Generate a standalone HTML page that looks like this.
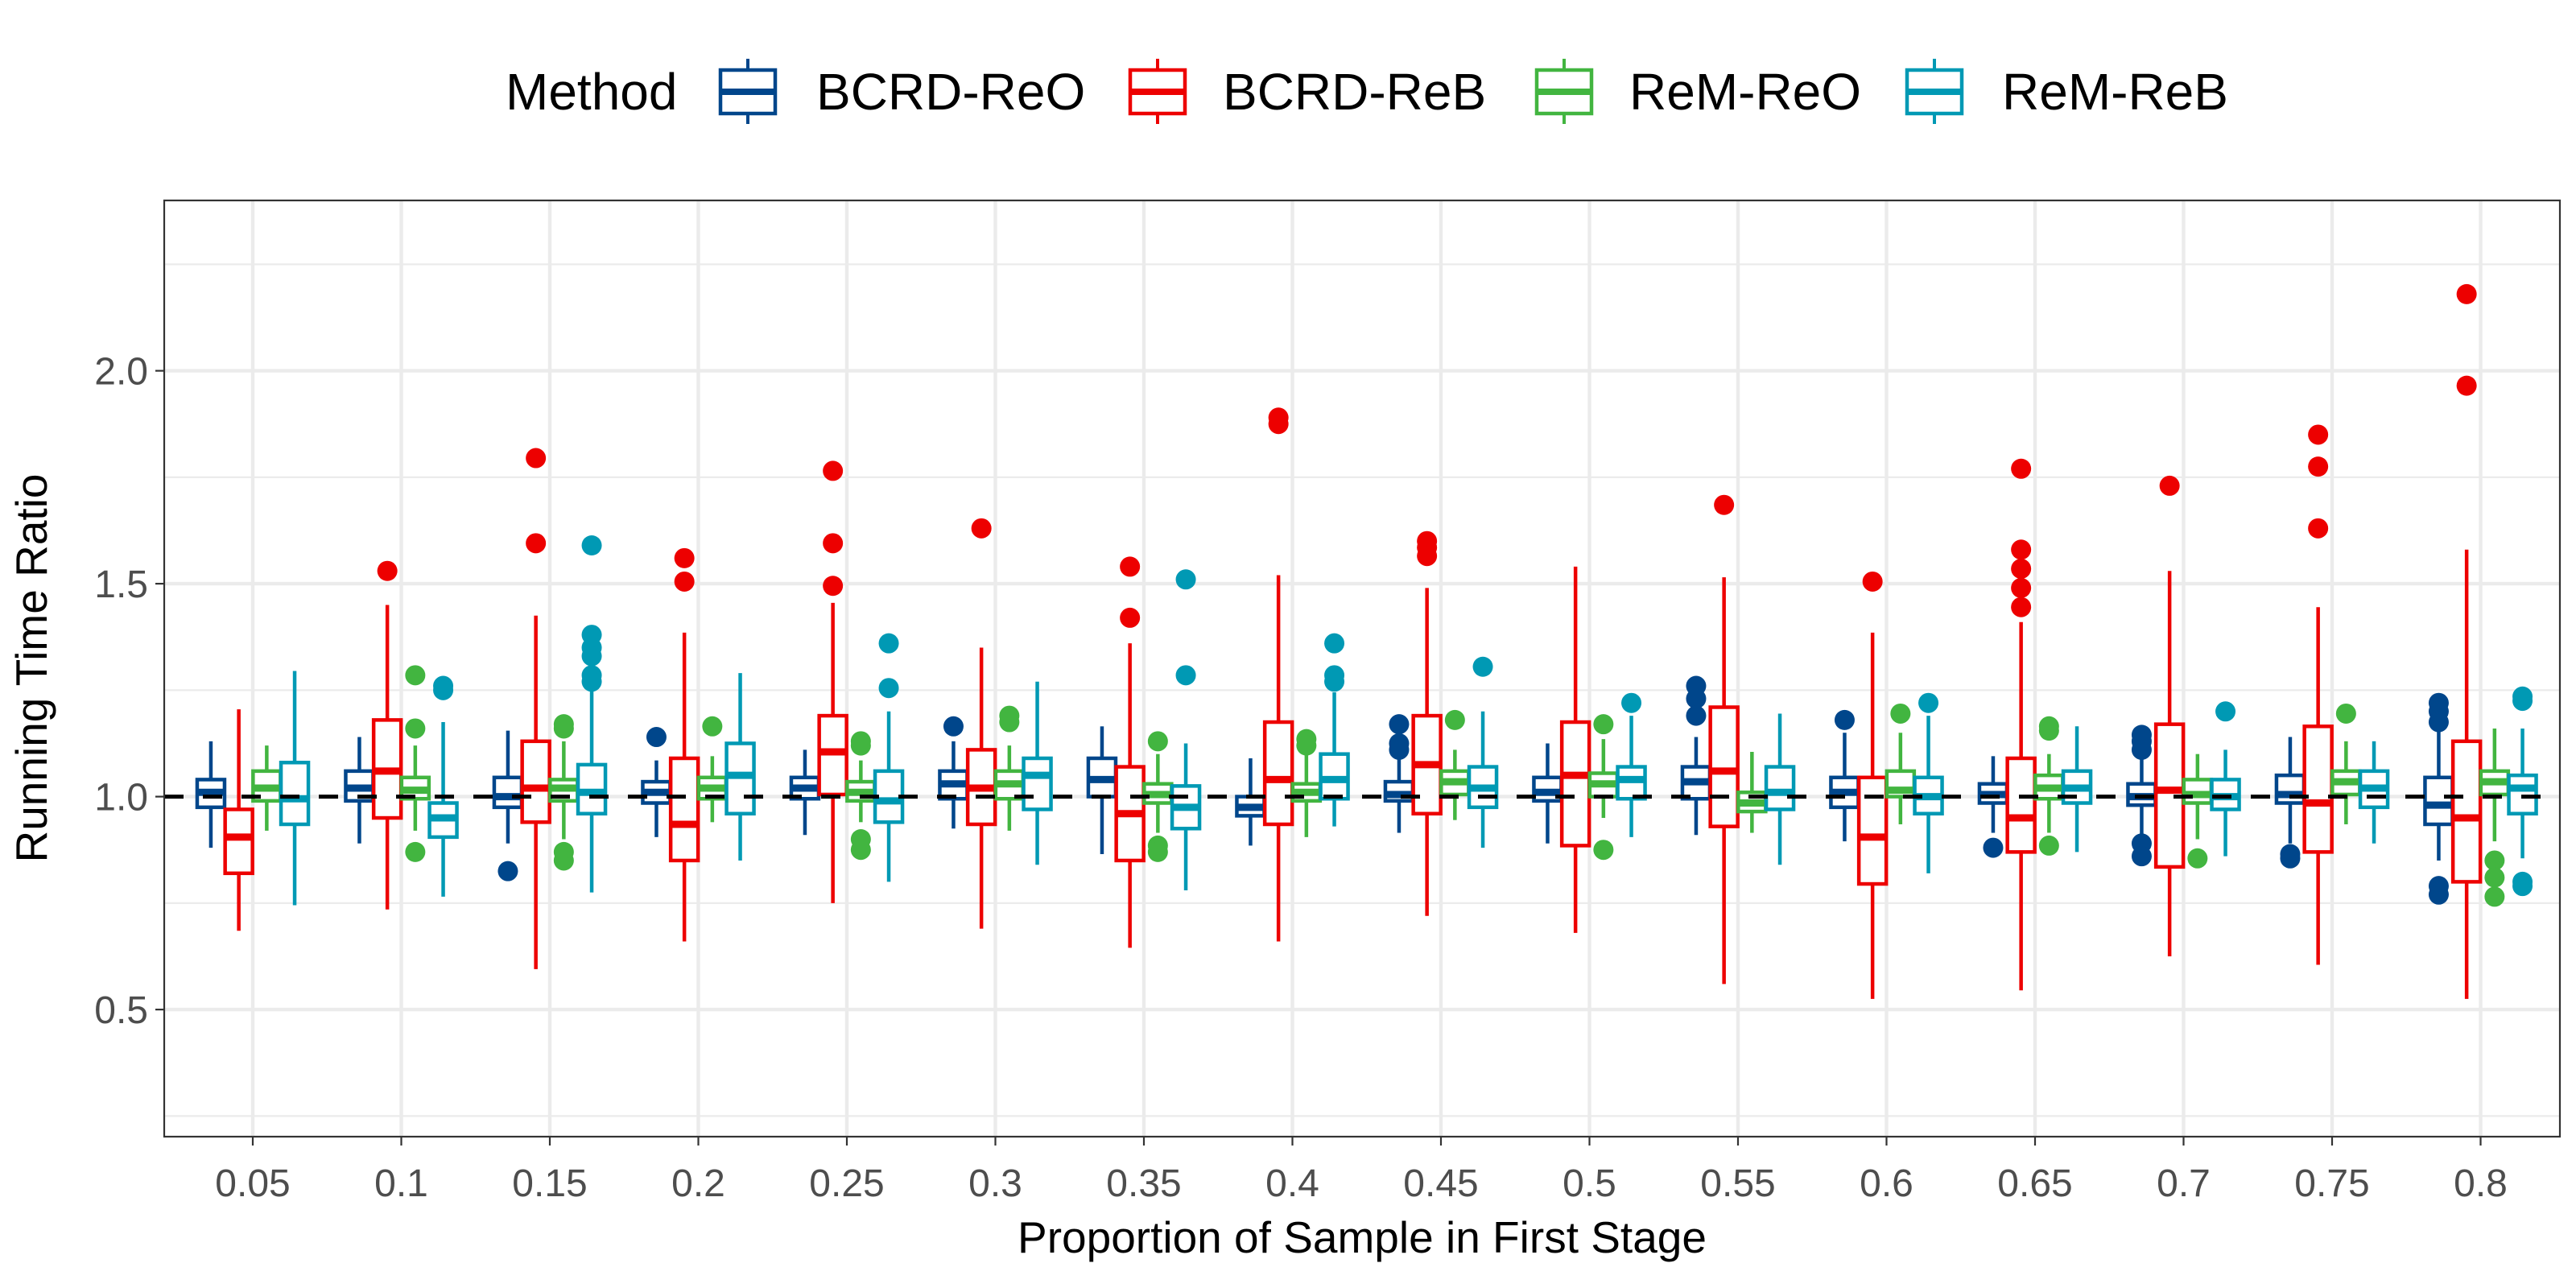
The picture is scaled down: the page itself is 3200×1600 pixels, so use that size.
<!DOCTYPE html>
<html><head><meta charset="utf-8">
<style>
html,body{margin:0;padding:0;background:#fff;}
svg{display:block;font-family:"Liberation Sans",Arial,sans-serif;}
</style></head>
<body>
<svg id="chart" width="3200" height="1600" viewBox="0 0 3200 1600" xmlns="http://www.w3.org/2000/svg">
  <g id="legend"></g>
  <g id="grid"></g>
  <g id="marks"></g>
  <g id="axes"></g>
</svg>
<script>
// ---- data ----
const categories = ["0.05","0.1","0.15","0.2","0.25","0.3","0.35","0.4","0.45","0.5","0.55","0.6","0.65","0.7","0.75","0.8"];
const seriesNames = ["BCRD-ReO","BCRD-ReB","ReM-ReO","ReM-ReB"];
const seriesColors = ["#00468b","#ed0000","#42b540","#0099b4"];
const yTicks = [0.5,1.0,1.5,2.0];
const yTickLabels = ["0.5","1.0","1.5","2.0"];
const yMinorTicks = [0.25,0.75,1.25,1.75,2.25];
// each entry: [whiskerLow, q1, median, q3, whiskerHigh]
const statsBCRDReO = [
 [0.88,0.975,1.01,1.04,1.13],[0.89,0.99,1.02,1.06,1.14],[0.89,0.975,1.0,1.045,1.155],[0.905,0.985,1.01,1.035,1.085],
 [0.91,0.995,1.02,1.045,1.11],[0.925,0.995,1.03,1.06,1.13],[0.865,1.0,1.04,1.09,1.165],[0.885,0.955,0.975,1.0,1.09],
 [0.915,0.99,1.005,1.035,1.095],[0.89,0.99,1.01,1.045,1.125],[0.91,0.995,1.035,1.07,1.14],[0.895,0.975,1.01,1.045,1.15],
 [0.915,0.985,1.005,1.03,1.095],[0.91,0.98,1.0,1.03,1.12],[0.89,0.985,1.005,1.05,1.14],[0.85,0.935,0.98,1.045,1.17]];
const statsBCRDReB = [
 [0.685,0.82,0.905,0.97,1.205],[0.735,0.95,1.06,1.18,1.45],[0.595,0.94,1.02,1.13,1.425],[0.66,0.85,0.935,1.09,1.385],
 [0.75,1.005,1.105,1.19,1.455],[0.69,0.935,1.02,1.11,1.35],[0.645,0.85,0.96,1.07,1.36],[0.66,0.935,1.04,1.175,1.52],
 [0.72,0.96,1.075,1.19,1.49],[0.68,0.885,1.05,1.175,1.54],[0.56,0.93,1.06,1.21,1.515],[0.525,0.795,0.905,1.045,1.385],
 [0.545,0.87,0.95,1.09,1.41],[0.625,0.835,1.015,1.17,1.53],[0.605,0.87,0.985,1.165,1.445],[0.525,0.8,0.95,1.13,1.58]];
const statsReMReO = [
 [0.92,0.99,1.02,1.06,1.12],[0.92,0.995,1.015,1.045,1.12],[0.9,0.99,1.02,1.04,1.13],[0.94,0.995,1.02,1.045,1.095],
 [0.94,0.99,1.01,1.035,1.085],[0.92,0.995,1.03,1.06,1.12],[0.915,0.985,1.005,1.03,1.1],[0.905,0.99,1.01,1.03,1.1],
 [0.945,1.005,1.035,1.06,1.11],[0.95,1.0,1.03,1.055,1.135],[0.915,0.965,0.985,1.01,1.105],[0.935,1.0,1.015,1.06,1.15],
 [0.915,0.995,1.02,1.05,1.1],[0.9,0.985,1.005,1.04,1.1],[0.935,1.005,1.035,1.06,1.13],[0.895,1.005,1.035,1.06,1.16]];
const statsReMReB = [
 [0.745,0.935,0.995,1.08,1.295],[0.765,0.905,0.95,0.985,1.175],[0.775,0.96,1.01,1.075,1.3],[0.85,0.96,1.05,1.125,1.29],
 [0.8,0.94,0.99,1.06,1.2],[0.84,0.97,1.05,1.09,1.27],[0.78,0.925,0.975,1.025,1.125],[0.93,0.995,1.04,1.1,1.245],
 [0.88,0.975,1.02,1.07,1.2],[0.905,0.995,1.04,1.07,1.19],[0.84,0.97,1.01,1.07,1.195],[0.82,0.96,1.0,1.045,1.19],
 [0.87,0.985,1.02,1.06,1.165],[0.86,0.97,1.0,1.04,1.11],[0.89,0.975,1.02,1.06,1.13],[0.855,0.96,1.02,1.05,1.16]];
const outBCRDReO = [[],[],[0.825],[1.14],[],[1.165],[],[],[1.17,1.125,1.11],[],[1.26,1.23,1.19],[1.18],[0.88],[1.145,1.13,1.11,0.89,0.86],[0.865,0.855],[1.22,1.2,1.175,0.79,0.77]];
const outBCRDReB = [[],[1.53],[1.795,1.595],[1.56,1.505],[1.765,1.595,1.495],[1.63],[1.54,1.42],[1.89,1.875],[1.6,1.585,1.565],[],[1.685],[1.505],[1.77,1.58,1.535,1.49,1.445],[1.73],[1.85,1.775,1.63],[2.18,1.965]];
const outReMReO = [[],[1.285,1.16,0.87],[1.17,1.16,0.87,0.85],[1.165],[1.13,1.12,0.9,0.875],[1.19,1.175],[1.13,0.885,0.87],[1.135,1.12],[1.18],[1.17,0.875],[],[1.195],[1.165,1.155,0.885],[0.855],[1.195],[0.85,0.81,0.765]];
const outReMReB = [[],[1.26,1.25],[1.59,1.38,1.35,1.33,1.285,1.27],[],[1.36,1.255],[],[1.51,1.285],[1.36,1.285,1.27],[1.305],[1.22],[],[1.22],[],[1.2],[],[1.235,1.225,0.8,0.79]];
const allStats = [statsBCRDReO,statsBCRDReB,statsReMReO,statsReMReB];
const allOut = [outBCRDReO,outBCRDReB,outReMReO,outReMReB];

// ---- layout ----
const NS="http://www.w3.org/2000/svg";
const P={l:204,t:249,r:3180,b:1412};
const yMin=0.2015, yMax=2.4;
function yScale(v){return P.b-(v-yMin)/(yMax-yMin)*(P.b-P.t);}
function xScale(i){return 314+i*184.5;}
const dodge=34.7, boxW=34;
function mk(tag,attrs,parent){const e=document.createElementNS(NS,tag);for(const k in attrs)e.setAttribute(k,attrs[k]);parent.appendChild(e);return e;}

const grid=document.getElementById('grid');
mk('rect',{x:P.l,y:P.t,width:P.r-P.l,height:P.b-P.t,fill:'#fff'},grid);
yMinorTicks.forEach(v=>{const l=mk('line',{x1:P.l,x2:P.r,y1:yScale(v),y2:yScale(v),stroke:'#ebebeb','stroke-width':2.2},grid);

});
yTicks.forEach(v=>{const l=mk('line',{x1:P.l,x2:P.r,y1:yScale(v),y2:yScale(v),stroke:'#ebebeb','stroke-width':4.4},grid);

});
categories.forEach((c,i)=>{const l=mk('line',{x1:xScale(i),x2:xScale(i),y1:P.t,y2:P.b,stroke:'#ebebeb','stroke-width':4.4},grid);

});

const marks=document.getElementById('marks');
categories.forEach((c,i)=>{
  seriesNames.forEach((s,k)=>{
    const st=allStats[k][i], col=seriesColors[k];
    const cx=xScale(i)+(k-1.5)*dodge;
    const g=mk('g',{},marks);
    
    
    mk('line',{x1:cx,x2:cx,y1:yScale(st[0]),y2:yScale(st[1]),stroke:col,'stroke-width':4.5},g);
    mk('line',{x1:cx,x2:cx,y1:yScale(st[3]),y2:yScale(st[4]),stroke:col,'stroke-width':4.5},g);
    mk('rect',{x:cx-boxW/2,y:yScale(st[3]),width:boxW,height:yScale(st[1])-yScale(st[3]),fill:'#fff',stroke:col,'stroke-width':4.5},g);
    mk('line',{x1:cx-boxW/2,x2:cx+boxW/2,y1:yScale(st[2]),y2:yScale(st[2]),stroke:col,'stroke-width':9},g);
    allOut[k][i].forEach(v=>{const d=mk('circle',{cx:cx,cy:yScale(v),r:12.5,fill:col},g);
      
      });
  });
});
const ref=mk('line',{x1:P.l,x2:P.r,y1:yScale(1),y2:yScale(1),stroke:'#000','stroke-width':5,'stroke-dasharray':'24 24'},marks);



const axes=document.getElementById('axes');
const border=mk('rect',{x:P.l,y:P.t,width:P.r-P.l,height:P.b-P.t,fill:'none',stroke:'#333','stroke-width':2.2},axes);


yTicks.forEach((v,j)=>{
  mk('line',{x1:P.l-11,x2:P.l,y1:yScale(v),y2:yScale(v),stroke:'#333','stroke-width':2.2},axes);
  const t=mk('text',{x:P.l-20,y:yScale(v)+17,'text-anchor':'end','font-size':48,fill:'#4d4d4d'},axes);
  t.textContent=yTickLabels[j];
  
  
});
categories.forEach((c,i)=>{
  mk('line',{x1:xScale(i),x2:xScale(i),y1:P.b,y2:P.b+11,stroke:'#333','stroke-width':2.2},axes);
  const t=mk('text',{x:xScale(i),y:1486,'text-anchor':'middle','font-size':48,fill:'#4d4d4d'},axes);
  t.textContent=c;
  
  
});
const xt=mk('text',{x:(P.l+P.r)/2,y:1556,'text-anchor':'middle','font-size':55,fill:'#000'},axes);
xt.textContent='Proportion of Sample in First Stage';


const yt=mk('text',{x:0,y:0,'text-anchor':'middle','font-size':55,fill:'#000',transform:'translate(58,830) rotate(-90)'},axes);
yt.textContent='Running Time Ratio';



const leg=document.getElementById('legend');
const lt=mk('text',{x:628,y:136,'font-size':64,fill:'#000'},leg);
lt.textContent='Method';


const keyX=[892,1401,1906,2366], textX=[1014,1519,2024,2487];
seriesNames.forEach((s,k)=>{
  const g=mk('g',{},leg);
  
  
  const col=seriesColors[k], cx=keyX[k]+37;
  mk('line',{x1:cx,x2:cx,y1:73,y2:154,stroke:col,'stroke-width':4},g);
  mk('rect',{x:keyX[k]+3,y:87,width:68,height:54,fill:'#fff',stroke:col,'stroke-width':4.5},g);
  mk('line',{x1:keyX[k]+3,x2:keyX[k]+71,y1:114,y2:114,stroke:col,'stroke-width':8},g);
  const t=mk('text',{x:textX[k],y:136,'font-size':64,fill:'#000'},g);
  t.textContent=s;
});
</script>
</body></html>
